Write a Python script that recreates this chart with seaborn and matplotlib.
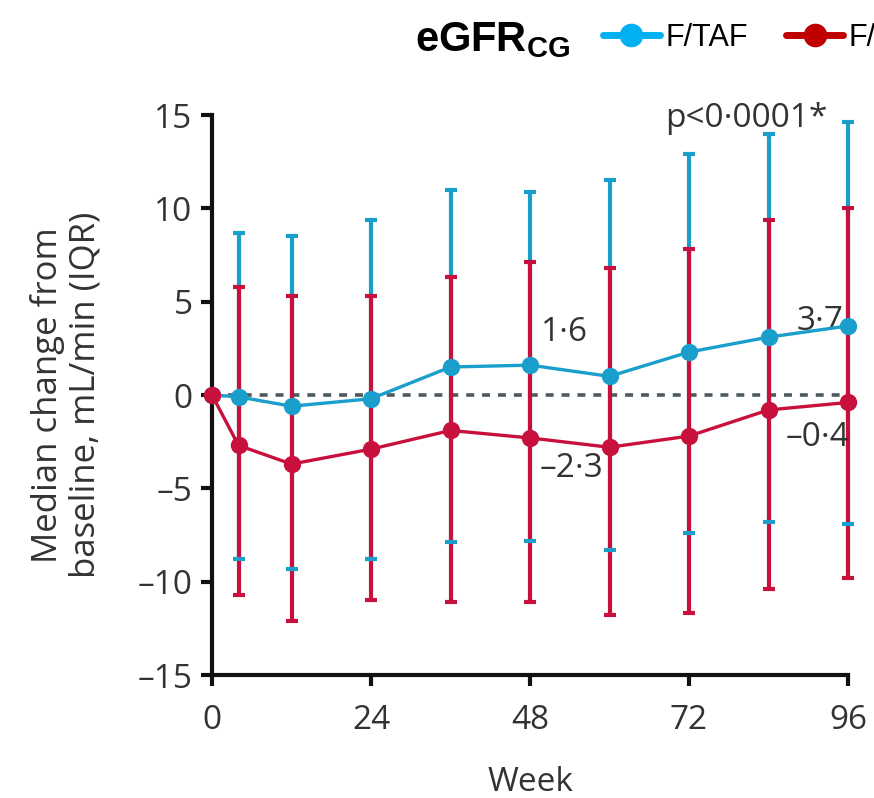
import matplotlib
matplotlib.use("Agg")
import matplotlib.pyplot as plt
from matplotlib.lines import Line2D
import seaborn as sns
import pandas as pd
import numpy as np

weeks = [0, 4, 12, 24, 36, 48, 60, 72, 84, 96]
taf_median = [0.0, -0.1, -0.6, -0.2, 1.5, 1.6, 1.0, 2.3, 3.1, 3.7]
taf_q1 = [0.0, -8.8, -9.3, -8.8, -7.9, -7.8, -8.3, -7.4, -6.8, -6.9]
taf_q3 = [0.0, 8.7, 8.5, 9.4, 11.0, 10.9, 11.5, 12.9, 14.0, 14.6]
tdf_median = [0.0, -2.7, -3.7, -2.9, -1.9, -2.3, -2.8, -2.2, -0.8, -0.4]
tdf_q1 = [0.0, -10.7, -12.1, -11.0, -11.1, -11.1, -11.8, -11.7, -10.4, -9.8]
tdf_q3 = [0.0, 5.8, 5.3, 5.3, 6.3, 7.1, 6.8, 7.8, 9.4, 10.0]
series_names = ["F/TAF", "F/TDF"]
x_ticks = [0, 24, 48, 72, 96]
y_ticks = [-15, -10, -5, 0, 5, 10, 15]
y_tick_labels = ["–15", "–10", "–5", "0", "5", "10", "15"]

BLUE = "#1a9ecb"
RED = "#c8103c"
LEG_BLUE = "#00b0f0"
LEG_RED = "#c00000"
TXT = "#333333"

sns.set_style("ticks")
plt.rcParams["font.family"] = ["Open Sans", "DejaVu Sans"]
plt.rcParams["mathtext.fontset"] = "custom"
plt.rcParams["mathtext.bf"] = "Liberation Sans:bold"
plt.rcParams["mathtext.rm"] = "Liberation Sans"

fig = plt.figure(figsize=(8.74, 7.98), dpi=100)
ax = fig.add_axes([212/874, 1-675/798, 636/874, 560/798])

df = pd.DataFrame({
    "week": weeks * 2,
    "median": taf_median + tdf_median,
    "q1": taf_q1 + tdf_q1,
    "q3": taf_q3 + tdf_q3,
    "group": [series_names[0]] * len(weeks) + [series_names[1]] * len(weeks),
})

ax.axhline(0, color="#4d5a60", lw=2.6, ls=(0, (2.2, 2.2)), zorder=1)

# error bars (IQR), skip baseline
colors = {series_names[0]: BLUE, series_names[1]: RED}
zs = {series_names[0]: 2, series_names[1]: 3}
for g in series_names:
    d = df[(df.group == g) & (df.week > 0)]
    eb = ax.errorbar(d["week"], d["median"],
                     yerr=[d["median"] - d["q1"], d["q3"] - d["median"]],
                     fmt="none", ecolor=colors[g], elinewidth=3.0,
                     capsize=4.5, capthick=3.0, zorder=zs[g])
    for cl in eb[1]:
        cl.set_zorder(4 if g == series_names[0] else 3.5)
        cl.set_clip_on(False)
    for lc in eb[2]:
        lc.set_clip_on(False)

for g, z in zip(series_names, [5, 6]):
    d = df[df.group == g]
    sns.lineplot(data=d, x="week", y="median", ax=ax, color=colors[g],
                 marker="o", markersize=12.5, markeredgewidth=0,
                 linewidth=2.4, zorder=z, legend=False, clip_on=False,
                 errorbar=None)

ax.set_xlim(0, 96)
ax.set_ylim(-15, 15)
ax.set_xticks(x_ticks)
ax.set_xticklabels([str(t) for t in x_ticks])
ax.set_yticks(y_ticks)
ax.set_yticklabels(y_tick_labels)
sns.despine(ax=ax)
for s in ["left", "bottom"]:
    ax.spines[s].set_linewidth(3.0)
    ax.spines[s].set_color("#111111")
ax.tick_params(axis="both", direction="out", length=8, width=3.0,
               color="#111111", labelsize=24, labelcolor=TXT)
ax.tick_params(axis="y", pad=6)
ax.tick_params(axis="x", pad=13)

ax.set_xlabel("Week", fontsize=24, color=TXT)
ax.xaxis.set_label_coords(0.5, -0.163)
ax.set_ylabel("Median change from\nbaseline, mL/min (IQR)", fontsize=25,
              color=TXT, linespacing=1.15)
ax.yaxis.set_label_coords(-0.172, 0.5)

ax.text(68.4, 14.8, "p<0·0001*", fontsize=24, color=TXT, ha="left", va="center")
ax.text(49.6, 3.35, "1·6", fontsize=24, color=TXT, ha="left", va="center")
ax.text(49.4, -3.95, "–2·3", fontsize=24, color=TXT, ha="left", va="center")
ax.text(95.3, 3.95, "3·7", fontsize=24, color=TXT, ha="right", va="center")
ax.text(96.2, -2.3, "–0·4", fontsize=24, color=TXT, ha="right", va="center")

fig.text(415/874, 1-40/798, r"$\mathbf{eGFR}_{\mathbf{CG}}$", fontsize=30,
         color="black", ha="left", va="center")

handles = [Line2D([], [], color=LEG_BLUE, lw=5, marker="o", markersize=16),
           Line2D([], [], color=LEG_RED, lw=5, marker="o", markersize=16)]
fig.legend(handles, series_names, loc="center left",
           bbox_to_anchor=(603/874, 1-38/798), ncol=2, frameon=False,
           prop={"family": "Liberation Sans", "size": 22},
           handlelength=1.85, handletextpad=0.2, columnspacing=1.25,
           borderpad=0, borderaxespad=0, labelcolor="black")

fig.savefig("out.png", dpi=100)
